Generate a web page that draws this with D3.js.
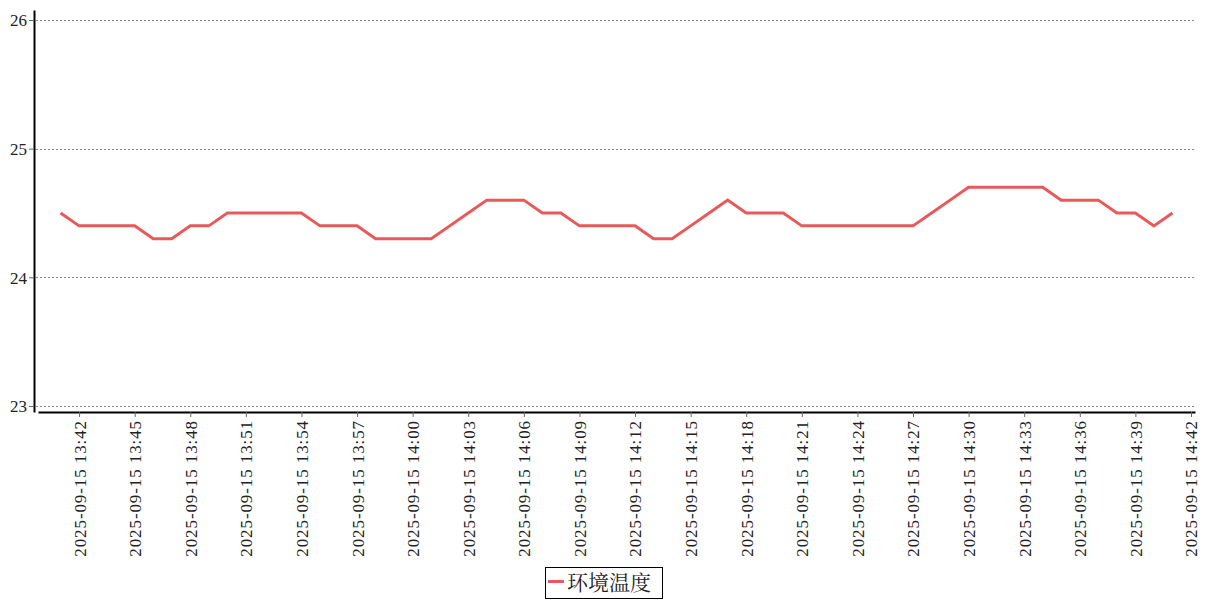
<!DOCTYPE html>
<html>
<head>
<meta charset="utf-8">
<script src="https://cdn.jsdelivr.net/npm/d3@7"></script>
<style>
  html, body { margin: 0; padding: 0; background: #fff; }
  svg { display: block; }
  .tick text { font-family: "Liberation Serif", "DejaVu Serif", serif; font-size: 17px; fill: #222; }
</style>
</head>
<body>
<svg id="chart" width="1207" height="600"></svg>
<script>
// ---- data ----
const seriesName = "环境温度";
const startTime = "2025-09-15 13:41";
const temperatures = [
  24.5, 24.4, 24.4, 24.4, 24.4, 24.3, 24.3, 24.4, 24.4, 24.5,
  24.5, 24.5, 24.5, 24.5, 24.4, 24.4, 24.4, 24.3, 24.3, 24.3,
  24.3, 24.4, 24.5, 24.6, 24.6, 24.6, 24.5, 24.5, 24.4, 24.4,
  24.4, 24.4, 24.3, 24.3, 24.4, 24.5, 24.6, 24.5, 24.5, 24.5,
  24.4, 24.4, 24.4, 24.4, 24.4, 24.4, 24.4, 24.5, 24.6, 24.7,
  24.7, 24.7, 24.7, 24.7, 24.6, 24.6, 24.6, 24.5, 24.5, 24.4,
  24.5
];
const yTicks = [23, 24, 25, 26];
const xTickLabels = [
  "2025-09-15 13:42", "2025-09-15 13:45", "2025-09-15 13:48", "2025-09-15 13:51",
  "2025-09-15 13:54", "2025-09-15 13:57", "2025-09-15 14:00", "2025-09-15 14:03",
  "2025-09-15 14:06", "2025-09-15 14:09", "2025-09-15 14:12", "2025-09-15 14:15",
  "2025-09-15 14:18", "2025-09-15 14:21", "2025-09-15 14:24", "2025-09-15 14:27",
  "2025-09-15 14:30", "2025-09-15 14:33", "2025-09-15 14:36", "2025-09-15 14:39",
  "2025-09-15 14:42"
];
const domainStart = "2025-09-15 13:39:47";
const domainEnd = "2025-09-15 14:42:13";

// ---- build ----
const parseMin = d3.timeParse("%Y-%m-%d %H:%M");
const parseSec = d3.timeParse("%Y-%m-%d %H:%M:%S");
const fmt = d3.timeFormat("%Y-%m-%d %H:%M");
const t0 = parseMin(startTime);
const data = temperatures.map((v, i) => ({ t: d3.timeMinute.offset(t0, i), v }));
const tickDates = xTickLabels.map(parseMin);

const svg = d3.select("#chart");
const lineColor = "#e8595a";

const x = d3.scaleTime().domain([parseSec(domainStart), parseSec(domainEnd)]).range([38, 1195]);
const y = d3.scaleLinear().domain([22.953, 26.078]).range([412, 10]);

// gridlines
svg.append("g").selectAll("line").data(yTicks).join("line")
  .attr("x1", 36).attr("x2", 1195)
  .attr("y1", d => Math.round(y(d)) + 0.5).attr("y2", d => Math.round(y(d)) + 0.5)
  .attr("stroke", "#888").attr("stroke-width", 1).attr("stroke-dasharray", "2,2");

// y axis
const yAxis = svg.append("g").attr("transform", "translate(34,0)")
  .call(d3.axisLeft(y).tickValues(yTicks).tickFormat(d3.format("d")).tickSize(5).tickSizeOuter(0));
yAxis.select(".domain").attr("stroke", "#000").attr("stroke-width", 2);
yAxis.selectAll(".tick line").attr("stroke", "#666");
yAxis.selectAll(".tick text").attr("x", -7).attr("dy", "0.34em");

// x axis
const xAxis = svg.append("g").attr("transform", "translate(0,412)")
  .call(d3.axisBottom(x).tickValues(tickDates).tickFormat(fmt).tickSize(5).tickSizeOuter(0));
xAxis.select(".domain").attr("stroke", "#000").attr("stroke-width", 2);
xAxis.selectAll(".tick line").attr("stroke", "#666");
xAxis.selectAll(".tick text")
  .attr("text-anchor", "end")
  .attr("transform", "rotate(-90)")
  .attr("x", -8).attr("y", 0).attr("dy", "0.35em")
  .style("letter-spacing", "0.9px");

// line
const line = d3.line().x(d => x(d.t)).y(d => y(d.v));
svg.append("path").datum(data)
  .attr("fill", "none").attr("stroke", lineColor).attr("stroke-width", 3)
  .attr("stroke-linejoin", "miter").attr("d", line);

// legend
const lg = svg.append("g").attr("transform", "translate(545,567)");
lg.append("rect").attr("x", 0.5).attr("y", 0.5).attr("width", 117).attr("height", 31)
  .attr("fill", "#fff").attr("stroke", "#000").attr("stroke-width", 1);
lg.append("line").attr("x1", 3).attr("x2", 19).attr("y1", 14.5).attr("y2", 14.5)
  .attr("stroke", lineColor).attr("stroke-width", 3);
lg.append("text").attr("x", 22).attr("y", 23)
  .style("font-family", "'Noto Serif CJK SC', 'Noto Sans CJK SC', serif")
  .style("font-size", "21px").style("fill", "#222")
  .text(seriesName);
</script>
</body>
</html>
